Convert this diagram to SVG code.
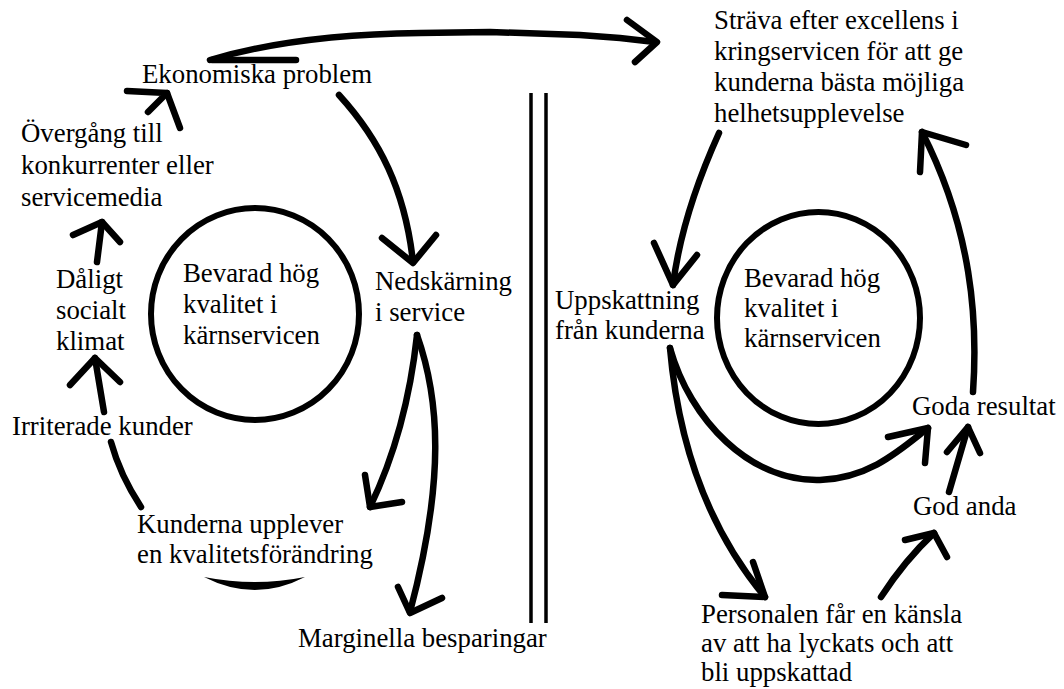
<svg xmlns="http://www.w3.org/2000/svg" width="1064" height="689" viewBox="0 0 1064 689">
<style>
text{font-family:"Liberation Serif","Times New Roman",serif;font-size:26.8px;fill:#000}
.c{fill:none;stroke:#000;stroke-width:6.5;stroke-linecap:round;stroke-linejoin:round}
.ring{fill:none;stroke:#000;stroke-width:6}
.div{stroke:#000;stroke-width:3.5}
</style>
<rect width="1064" height="689" fill="#fff"/>
<g id="divider">
<line class="div" x1="531" y1="93" x2="531" y2="623"/>
<line class="div" x1="546" y1="93" x2="546" y2="623"/>
</g>
<g id="core-left">
<ellipse class="ring" cx="255" cy="314" rx="104" ry="106"/>
<text x="183" y="282">Bevarad hög</text>
<text x="183" y="313">kvalitet i</text>
<text x="183" y="344">kärnservicen</text>
</g>
<g id="ekonomiska"><text x="142" y="83">Ekonomiska problem</text></g>
<g id="overgang">
<text x="21" y="142">Övergång till</text>
<text x="21" y="174">konkurrenter eller</text>
<text x="21" y="206">servicemedia</text>
</g>
<g id="daligt">
<text x="56" y="288">Dåligt</text>
<text x="56" y="319">socialt</text>
<text x="56" y="350">klimat</text>
</g>
<g id="irriterade"><text x="12" y="435">Irriterade kunder</text></g>
<g id="kunderna">
<text x="137" y="533">Kunderna upplever</text>
<text x="137" y="563">en kvalitetsförändring</text>
</g>
<g id="nedskarning">
<text x="375" y="290">Nedskärning</text>
<text x="375" y="321">i service</text>
</g>
<g id="marginella"><text x="298" y="647">Marginella besparingar</text></g>
<g id="strava">
<text x="714" y="29">Sträva efter excellens i</text>
<text x="714" y="60">kringservicen för att ge</text>
<text x="714" y="91">kunderna bästa möjliga</text>
<text x="714" y="122">helhetsupplevelse</text>
</g>
<g id="core-right">
<ellipse class="ring" cx="818.5" cy="318" rx="101.5" ry="106"/>
<text x="744" y="287">Bevarad hög</text>
<text x="744" y="317">kvalitet i</text>
<text x="744" y="347">kärnservicen</text>
</g>
<g id="uppskattning">
<text x="555" y="309">Uppskattning</text>
<text x="555" y="339">från kunderna</text>
</g>
<g id="goda-resultat"><text x="912" y="415">Goda resultat</text></g>
<g id="god-anda"><text x="913" y="515">God anda</text></g>
<g id="personalen">
<text x="701" y="623">Personalen får en känsla</text>
<text x="701" y="652">av att ha lyckats och att</text>
<text x="701" y="681">bli uppskattad</text>
</g>
<g id="connectors">
<path class="c" d="M210 60 C270 42 340 34 420 33 L490 32 L580 35 L620 38 L655 42"/>
<path class="c" d="M296 60 L212 60"/>
<path class="c" d="M627 20 L657 42 L635 62"/>
<path class="c" d="M339 95 C380 140 405 190 413 262"/>
<path class="c" d="M382 238 L413 263 L436 235"/>
<path class="c" d="M417 335 C410 400 395 455 370 507"/>
<path class="c" d="M365 475 L370 507 L402 502"/>
<path class="c" d="M417 335 C440 400 445 480 410 612"/>
<path class="c" d="M398 587 L410 613 L442 598"/>
<path d="M204 577 Q255 587 305 577 Q255 603 204 577 Z" fill="#000"/>
<path class="c" d="M141 507 Q120 475 111 442"/>
<path class="c" d="M104 412 L95 358"/>
<path class="c" d="M70 385 L95 358 L120 382"/>
<path class="c" d="M97 262 L102 222"/>
<path class="c" d="M73 235 L102 222 L120 242"/>
<path class="c" d="M180 128 L167 93"/>
<path class="c" d="M127 91 L167 93 L148 112"/>
<path class="c" d="M719 133 C700 175 680 230 673 285"/>
<path class="c" d="M654 243 L673 285 L697 255"/>
<path class="c" d="M973 392 C978 320 972 230 922 132"/>
<path class="c" d="M920 172 L922 132 L966 145"/>
<path class="c" d="M670 348 C690 420 750 482 820 480 C870 478 900 450 928 428"/>
<path class="c" d="M888 437 L928 428 L925 463"/>
<path class="c" d="M670 348 C678 440 705 525 765 597"/>
<path class="c" d="M722 595 L765 597 L753 562"/>
<path class="c" d="M881 597 Q905 560 934 533"/>
<path class="c" d="M905 540 L934 533 L947 557"/>
<path class="c" d="M949 492 L968 427"/>
<path class="c" d="M947 452 L968 427 L980 453"/>
</g>
</svg>
